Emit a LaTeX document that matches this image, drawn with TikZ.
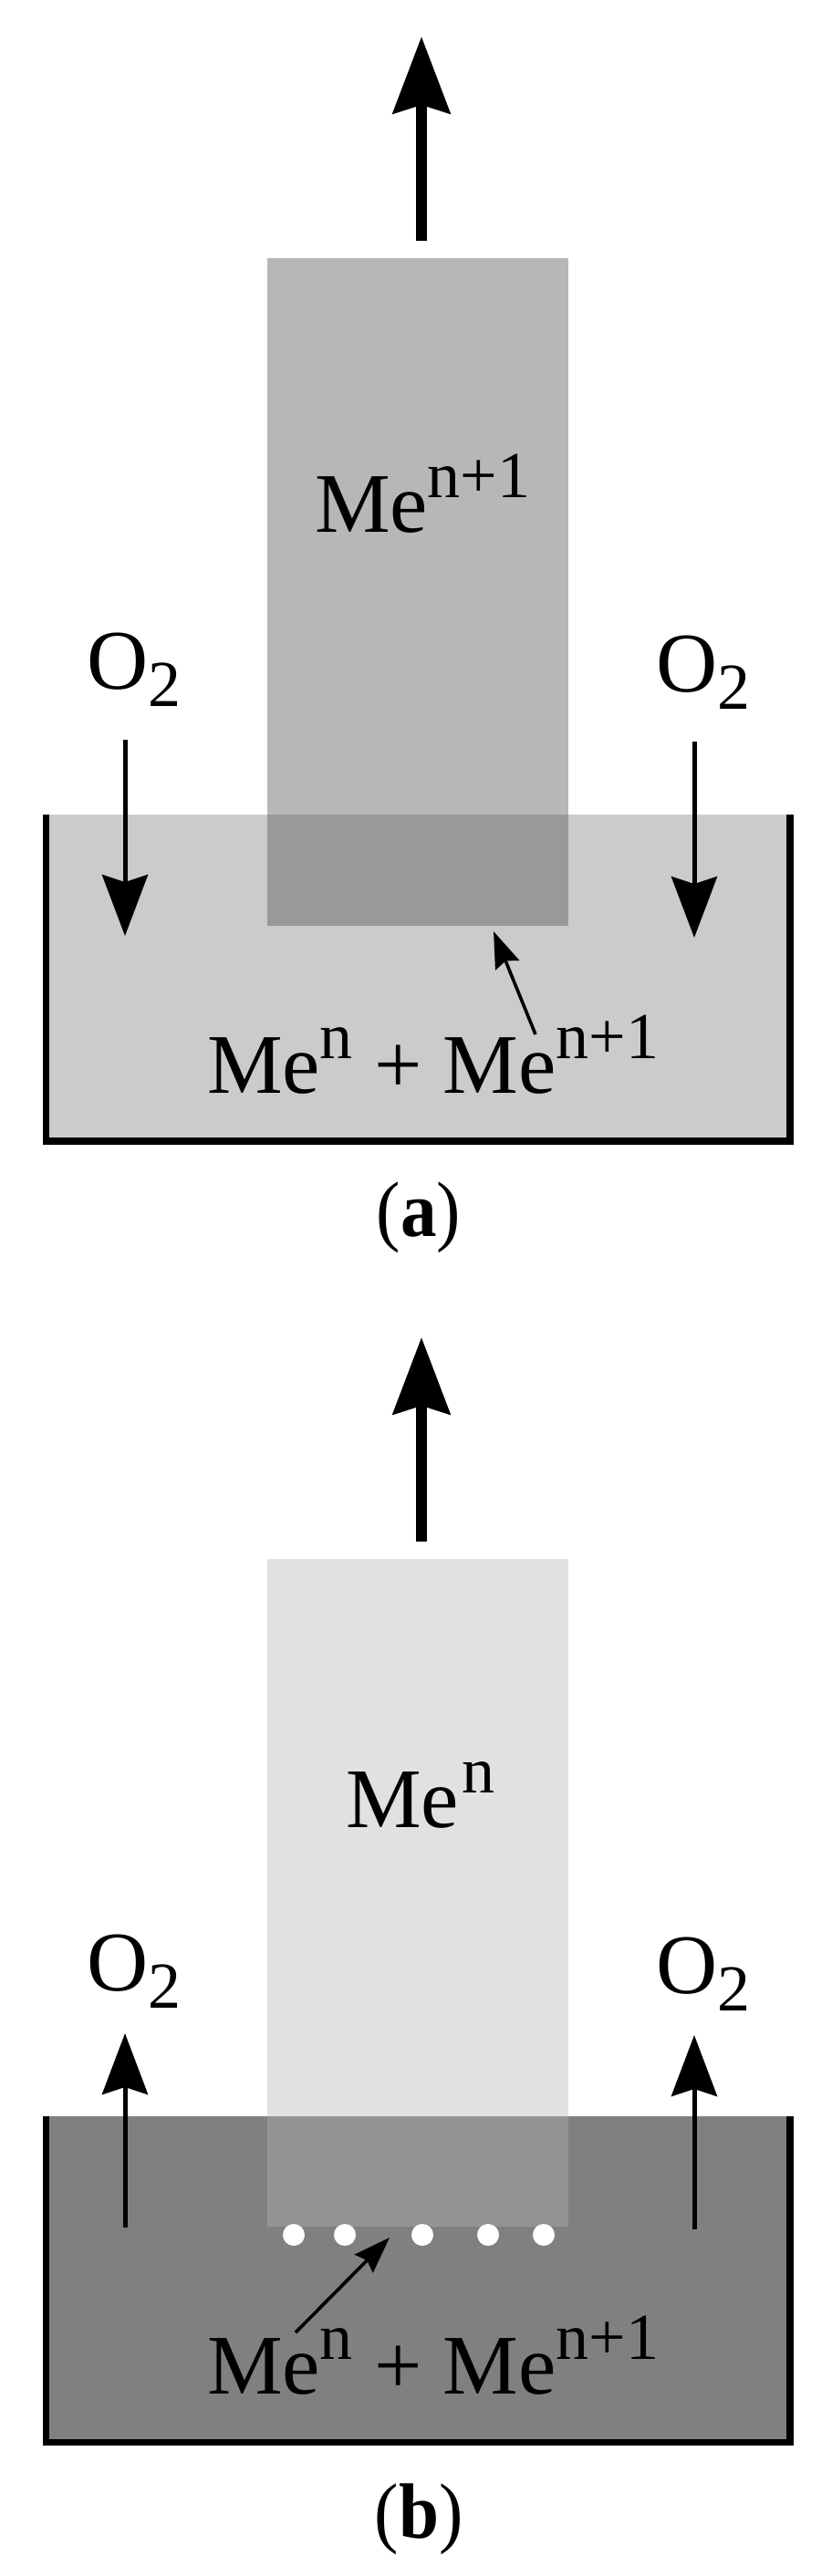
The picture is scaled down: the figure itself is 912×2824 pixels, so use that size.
\documentclass[tikz,border=0pt]{standalone}
\usepackage{fontspec}
\setmainfont{Liberation Serif}
\usetikzlibrary{arrows.meta}
\definecolor{roda}{HTML}{B7B7B7}
\definecolor{batha}{HTML}{CBCBCB}
\definecolor{overa}{HTML}{999999}
\definecolor{rodb}{HTML}{E1E1E1}
\definecolor{bathb}{HTML}{808080}
\definecolor{overb}{HTML}{939393}
\newcommand{\bigfont}{\fontsize{93}{93}\selectfont}
\newcommand{\supr}[1]{\raisebox{38pt}{\fontsize{72}{72}\selectfont #1}}
\newcommand{\subr}[1]{\raisebox{-19pt}{\fontsize{72}{72}\selectfont #1}}
\newcommand{\capt}[1]{\scalebox{.92}[1]{{\mdseries(}#1{\mdseries)}}}
\tikzset{
  lbl/.style={anchor=base west,inner sep=0pt,outer sep=0pt,font=\bigfont},
  captext/.style={anchor=base,inner sep=0pt,outer sep=0pt,font=\fontsize{86}{86}\selectfont\bfseries},
  pull/.style={line width=12pt,-{Stealth[length=84pt,width=62pt,inset=9pt]}},
  gas/.style={line width=5pt,-{Stealth[length=67pt,width=50pt,inset=8pt]}},
  pointer/.style={line width=3.6pt,-{Stealth[length=40pt,width=28pt,inset=5pt]}},
  wall/.style={line width=7.6pt,miter limit=10},
  bubble/.style={fill=white,circle,inner sep=0pt,minimum size=24pt}
}
\begin{document}
\begin{tikzpicture}[x=1pt,y=-1pt]
\useasboundingbox (0,0) rectangle (912,2824);
% ---- panel (a)
\fill[batha] (46.5,893) rectangle (870,1251);
\fill[roda] (293,283) rectangle (623,893);
\fill[overa] (293,893) rectangle (623,1015);
\draw[wall] (50.3,893) -- (50.3,1251) -- (866.2,1251) -- (866.2,893);
\coordinate (pa0) at (462,264); \coordinate (pa1) at (462,40);
\draw[pull] (pa0) -- (pa1);
\coordinate (la0) at (137,811); \coordinate (la1) at (137,1026);
\coordinate (ra0) at (761,813); \coordinate (ra1) at (761,1028);
\draw[gas] (la0) -- (la1);
\draw[gas] (ra0) -- (ra1);
\coordinate (ma0) at (587,1134); \coordinate (ma1) at (541,1021);
\draw[pointer] (ma0) -- (ma1);
\node[lbl] (rodlabela) at (345,583) {Me\supr{n+1}};
\node[lbl] (o2la) at (95,755) {O\subr{2}};
\node[lbl] (o2ra) at (719,758) {O\subr{2}};
\node[lbl] (batlabela) at (227,1198) {Me\supr{n} + Me\supr{n+1}};
\node[captext] (capa) at (459,1355) {\capt{a}};
% ---- panel (b)
\fill[bathb] (46.5,2320) rectangle (870,2677.5);
\fill[rodb] (293,1709) rectangle (623,2320);
\fill[overb] (293,2320) rectangle (623,2441);
\draw[wall] (50.3,2320) -- (50.3,2677.5) -- (866.2,2677.5) -- (866.2,2320);
\coordinate (pb0) at (462,1690); \coordinate (pb1) at (462,1466);
\draw[pull] (pb0) -- (pb1);
\coordinate (lb0) at (137,2442); \coordinate (lb1) at (137,2229);
\coordinate (rb0) at (761,2444); \coordinate (rb1) at (761,2231);
\draw[gas] (lb0) -- (lb1);
\draw[gas] (rb0) -- (rb1);
\node[bubble] (d1) at (322,2450) {};
\node[bubble] (d2) at (378,2450) {};
\node[bubble] (d3) at (463,2450) {};
\node[bubble] (d4) at (535,2450) {};
\node[bubble] (d5) at (596,2450) {};
\coordinate (mb0) at (324,2557); \coordinate (mb1) at (427,2453);
\draw[pointer] (mb0) -- (mb1);
\node[lbl] (rodlabelb) at (379,2003) {Me\hspace{4pt}\supr{n}};
\node[lbl] (o2lb) at (95,2182) {O\subr{2}};
\node[lbl] (o2rb) at (719,2185) {O\subr{2}};
\node[lbl] (batlabelb) at (227,2624) {Me\supr{n} + Me\supr{n+1}};
\node[captext] (capb) at (459,2782) {\capt{b}};
\end{tikzpicture}
\end{document}
